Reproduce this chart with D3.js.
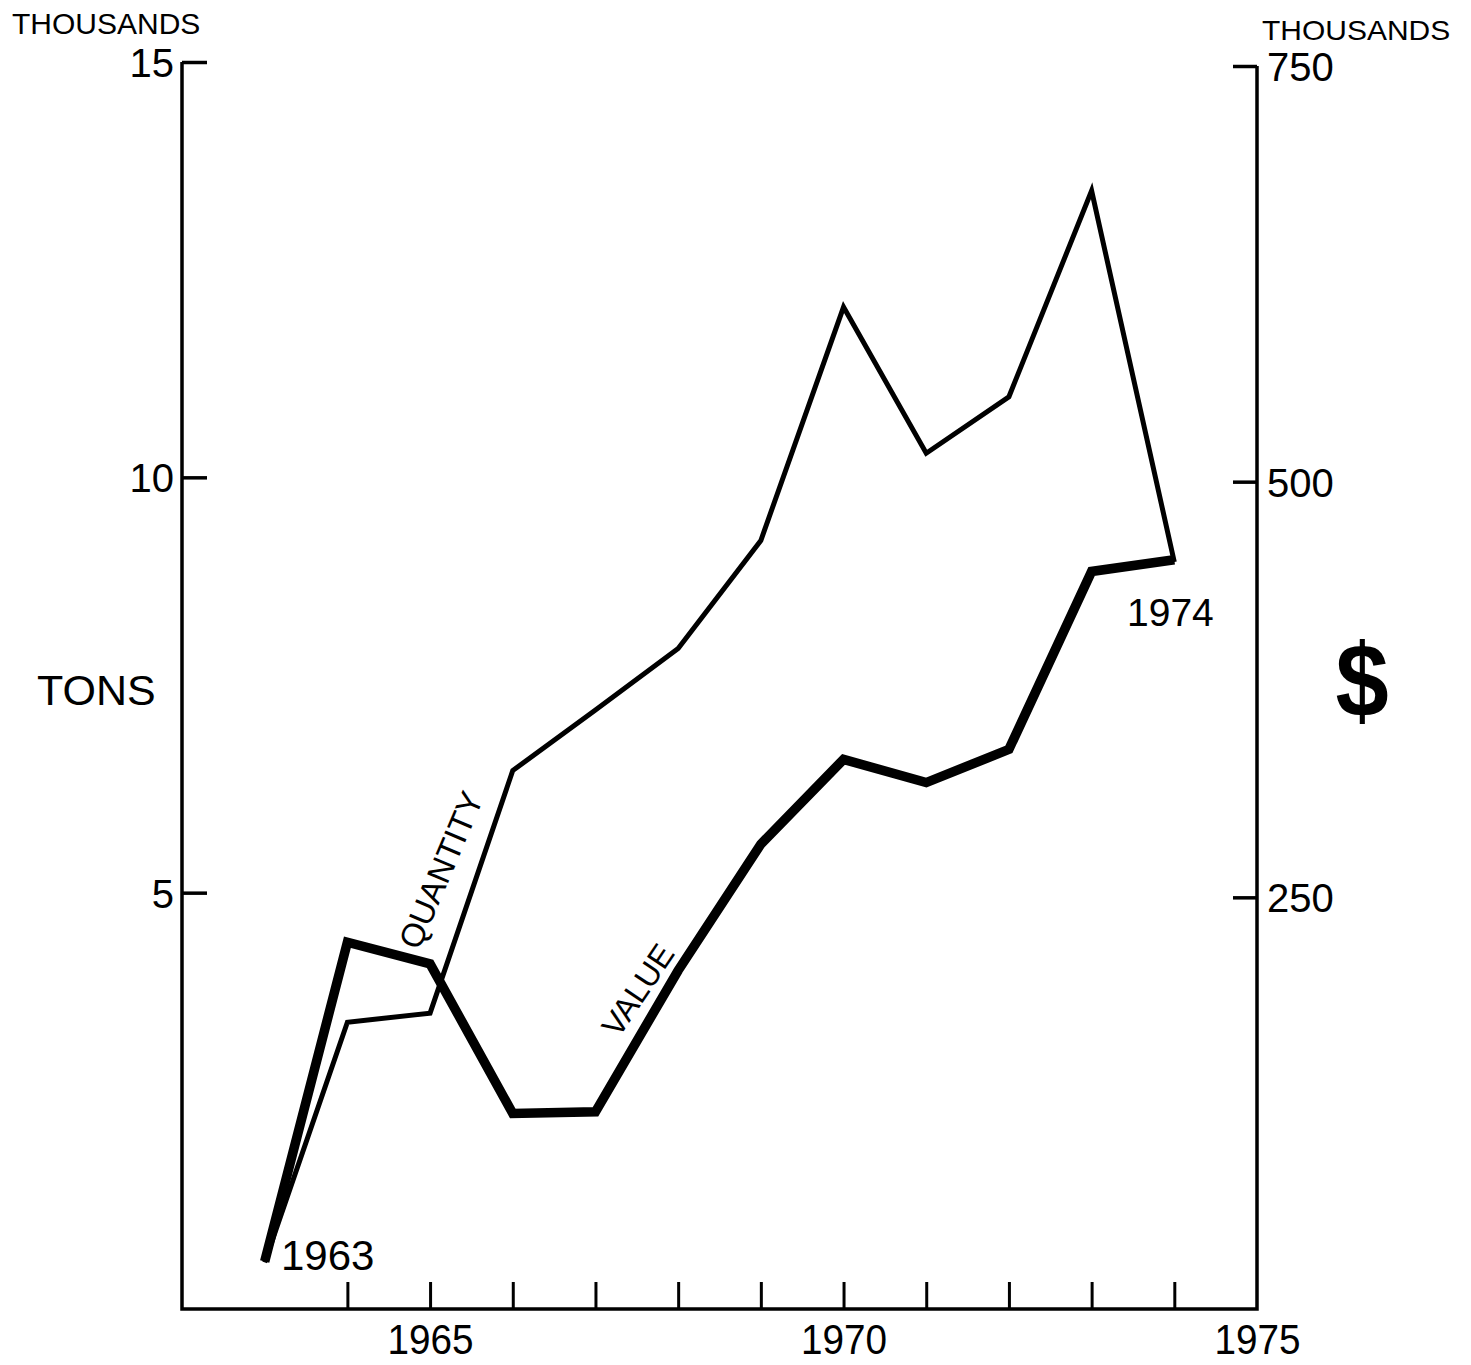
<!DOCTYPE html>
<html>
<head>
<meta charset="utf-8">
<script src="https://cdn.jsdelivr.net/npm/d3@7"></script>
<style>
  html, body { margin: 0; padding: 0; background: #fff; }
  svg { display: block; }
  text { font-family: "Liberation Sans", Arial, Helvetica, sans-serif; fill: #000; }
</style>
</head>
<body>
<svg id="chart" width="1471" height="1365"></svg>
<script>
// ---- data ----
const years = [1963, 1964, 1965, 1966, 1967, 1968, 1969, 1970, 1971, 1972, 1973, 1974];
// quantity, thousands of tons (left axis)
const quantity = [0.55, 3.44, 3.55, 6.47, 7.2, 7.94, 9.24, 12.05, 10.29, 10.97, 13.45, 8.98];
// value, thousands of dollars (right axis)
const value = [31, 223, 210, 120, 121, 206, 282, 333, 319, 339, 446, 453];
const xTickYears = [1964, 1965, 1966, 1967, 1968, 1969, 1970, 1971, 1972, 1973, 1974];
const xLabelYears = [1965, 1970, 1975];
const leftTicks = [5, 10, 15];
const rightTicks = [250, 500, 750];

const svg = d3.select("#chart");

const left = 182, right = 1257, bottom = 1309;
const x = d3.scaleLinear().domain([1962, 1975]).range([left, right]);
const yL = d3.scaleLinear().domain([0, 15]).range([1308, 62]);
const yR = d3.scaleLinear().domain([0, 750]).range([1313, 66]);

const axisStroke = 3.5;

// frame lines
svg.append("path")
  .attr("d", d3.line()([[left, yL(15)], [left, bottom], [right, bottom], [right, yR(750)]]))
  .attr("fill", "none").attr("stroke", "#000").attr("stroke-width", axisStroke)
  .attr("stroke-linejoin", "miter");

// left axis (ticks inward)
const gL = svg.append("g").attr("transform", `translate(${left},0)`)
  .call(d3.axisLeft(yL).tickValues(leftTicks).tickSize(-25).tickSizeOuter(0).tickPadding(8).tickFormat(d3.format("d")));
gL.select(".domain").remove();
gL.selectAll(".tick line").attr("stroke", "#000").attr("stroke-width", axisStroke);
gL.selectAll(".tick text").attr("font-size", 40).attr("dy", "0.36em")
  .style("font-family", "'Liberation Sans', Arial, sans-serif");

// right axis (ticks inward)
const gR = svg.append("g").attr("transform", `translate(${right},0)`)
  .call(d3.axisRight(yR).tickValues(rightTicks).tickSize(-24).tickSizeOuter(0).tickPadding(10).tickFormat(d3.format("d")));
gR.select(".domain").remove();
gR.selectAll(".tick line").attr("stroke", "#000").attr("stroke-width", axisStroke);
gR.selectAll(".tick text").attr("font-size", 40).attr("dy", "0.36em")
  .style("font-family", "'Liberation Sans', Arial, sans-serif");

// bottom ticks (inward, no labels)
const gB = svg.append("g").attr("transform", `translate(0,${bottom})`)
  .call(d3.axisBottom(x).tickValues(xTickYears).tickSize(-27).tickSizeOuter(0).tickFormat(""));
gB.select(".domain").remove();
gB.selectAll(".tick line").attr("stroke", "#000").attr("stroke-width", 3);

// bottom labels
const gBL = svg.append("g").attr("transform", `translate(0,${bottom})`)
  .call(d3.axisBottom(x).tickValues(xLabelYears).tickSize(0).tickPadding(14).tickFormat(d3.format("d")));
gBL.select(".domain").remove();
gBL.selectAll(".tick text").attr("font-size", 43).attr("dy", "0.71em")
  .style("font-family", "'Liberation Sans', Arial, sans-serif")
  .attr("transform", "scale(0.9,1)");

// lines
const qLine = d3.line().x((d, i) => x(years[i])).y(d => yL(d));
const vLine = d3.line().x((d, i) => x(years[i])).y(d => yR(d));

svg.append("path").datum(value)
  .attr("d", vLine).attr("fill", "none").attr("stroke", "#000")
  .attr("stroke-width", 9.5).attr("stroke-linejoin", "miter").attr("stroke-miterlimit", 3);

svg.append("path").datum(quantity)
  .attr("d", qLine).attr("fill", "none").attr("stroke", "#000")
  .attr("stroke-width", 5).attr("stroke-linejoin", "miter").attr("stroke-miterlimit", 4);

// texts
svg.append("text").attr("x", 12).attr("y", 34).attr("font-size", 30).text("THOUSANDS");
svg.append("text").attr("transform", "translate(1262,40) scale(1,0.9)").attr("font-size", 30).text("THOUSANDS");
svg.append("text").attr("x", 37).attr("y", 705).attr("font-size", 43).text("TONS");
svg.append("text").attr("transform", "translate(1362,716) scale(0.92,1)").attr("font-size", 104).attr("font-weight", "bold")
  .attr("text-anchor", "middle").text("$");
svg.append("text").attr("x", 281).attr("y", 1270).attr("font-size", 42).text("1963");
svg.append("text").attr("x", 1127).attr("y", 626).attr("font-size", 39).text("1974");

svg.append("text").attr("transform", "translate(441,870) rotate(-67)")
  .attr("font-size", 33).attr("text-anchor", "middle").attr("dominant-baseline", "central").text("QUANTITY");
svg.append("text").attr("transform", "translate(638,990) rotate(-56)")
  .attr("font-size", 32).attr("text-anchor", "middle").attr("dominant-baseline", "central").text("VALUE");
</script>
</body>
</html>
